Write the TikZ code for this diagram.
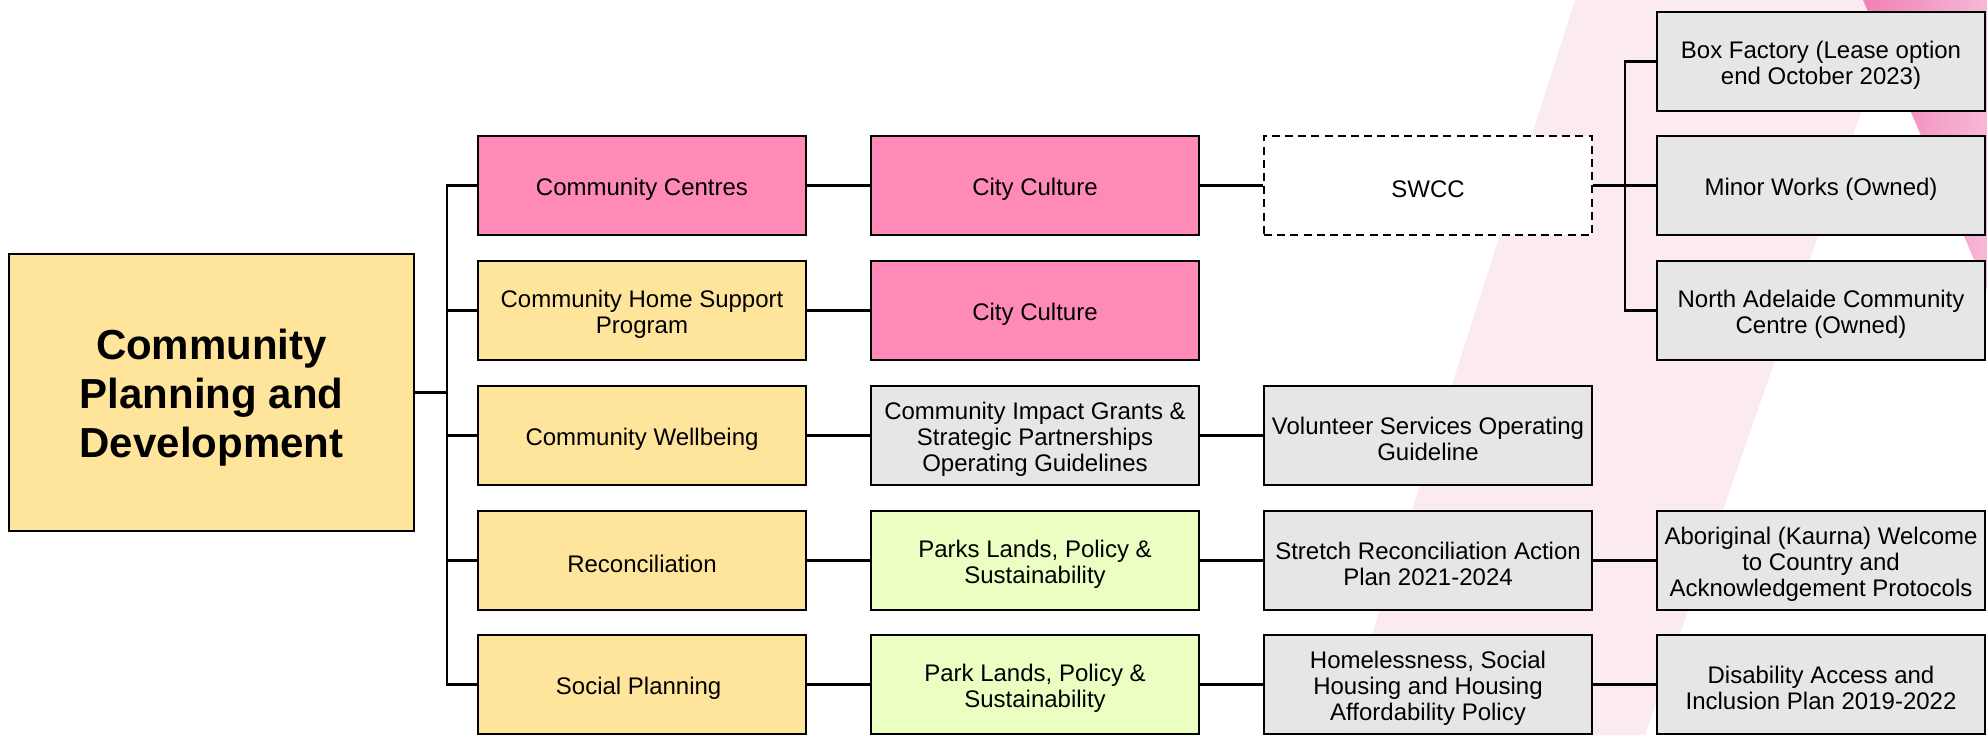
\documentclass[tikz,border=0pt]{standalone}
\usepackage{fontspec}
\setmainfont{Liberation Sans}
\usetikzlibrary{positioning,calc}
\definecolor{ccpink}{RGB}{255,138,184}
\definecolor{ccyellow}{RGB}{255,229,156}
\definecolor{ccgrey}{RGB}{230,230,230}
\definecolor{ccgreen}{RGB}{235,255,194}
\definecolor{bandpink}{RGB}{252,234,243}
\definecolor{stripepink}{RGB}{240,128,181}
\definecolor{stripelight}{RGB}{247,184,214}
% strut on the first text line, to sit the text a bit lower
\newcommand{\boxstrut}{\rule{0pt}{12.4pt}}

\tikzset{
    unitbox/.style={rectangle, draw, line width=1.4pt, minimum width=164pt, minimum height=49.5pt,
        inner sep=2pt, align=center, font=\fontsize{12}{13}\selectfont},
    link/.style={line width=1.1pt}
}

\begin{document}
\begin{tikzpicture}[x=0.5pt,y=-0.5pt]
    \useasboundingbox (0,0) rectangle (1987,735);

    % Background stripes
    \fill[bandpink] (1575,0) -- (1900,0) -- (1645,735) -- (1340,735) -- cycle;
    \shade[left color=stripepink, right color=stripelight] (1863,0) -- (1987,0) -- (1987,290) -- cycle;

    % Root
    \node[unitbox, fill=ccyellow, minimum width=202.5pt, minimum height=138.5pt,
        font=\bfseries\fontsize{21}{24.5}\selectfont] (root) at (211.5,392.5) {\rule{0pt}{20pt}Community\\Planning and\\Development};
    \coordinate (bus) at (447,392.5);
    \draw[link] (root.east) -- (bus);

    % First level with bus links
    \foreach \i/\y/\col/\text in {
        1/185.5/ccpink/{Community Centres},
        2/310.5/ccyellow/{Community Home Support\\Program},
        3/435.5/ccyellow/{Community Wellbeing},
        4/560.5/ccyellow/{Reconciliation},
        5/684.5/ccyellow/{Social Planning}
    } {
        \node[unitbox, fill=\col] (lvl\i) at (642,\y) {\boxstrut\text};
    }
    \draw[link] (lvl1.west) -- (bus |- lvl1.west) -- (bus |- lvl5.west) -- (lvl5.west);
    \foreach \i in {2,3,4} {
        \draw[link] (bus |- lvl\i.west) -- (lvl\i.west);
    }

    % Second level
    \node[unitbox, fill=ccpink] (cul1) at (1035,185.5) {\boxstrut City Culture};
    \node[unitbox, fill=ccpink] (cul2) at (1035,310.5) {\boxstrut City Culture};
    \node[unitbox, fill=ccgrey] (grants) at (1035,435.5) {\boxstrut Community Impact Grants \&\\Strategic Partnerships\\Operating Guidelines};
    \node[unitbox, fill=ccgreen] (parks) at (1035,560.5) {\boxstrut Parks Lands, Policy \&\\Sustainability};
    \node[unitbox, fill=ccgreen] (parkl) at (1035,684.5) {\boxstrut Park Lands, Policy \&\\Sustainability};
    \foreach \a/\b in {lvl1/cul1, lvl2/cul2, lvl3/grants, lvl4/parks, lvl5/parkl} {
        \draw[link] (\a.east) -- (\b.west);
    }

    % Third level
    \node[unitbox, fill=white, dashed, dash pattern=on 4pt off 2.6pt] (swcc) at (1428,185.5) {\boxstrut SWCC};
    \node[unitbox, fill=ccgrey] (vol) at (1428,435.5) {\boxstrut Volunteer Services Operating\\Guideline};
    \node[unitbox, fill=ccgrey] (recon) at (1428,560.5) {\boxstrut Stretch Reconciliation Action\\Plan 2021-2024};
    \node[unitbox, fill=ccgrey] (homeless) at (1428,684.5) {\boxstrut Homelessness, Social\\Housing and Housing\\Affordability Policy};
    \foreach \a/\b in {cul1/swcc, grants/vol, parks/recon, parkl/homeless} {
        \draw[link] (\a.east) -- (\b.west);
    }

    % Fourth level
    \node[unitbox, fill=ccgrey] (factory) at (1821,61.5) {\boxstrut Box Factory (Lease option\\end October 2023)};
    \node[unitbox, fill=ccgrey] (minor) at (1821,185.5) {\boxstrut Minor Works (Owned)};
    \node[unitbox, fill=ccgrey] (north) at (1821,310.5) {\boxstrut North Adelaide Community\\Centre (Owned)};
    \node[unitbox, fill=ccgrey] (welcome) at (1821,560.5) {\boxstrut Aboriginal (Kaurna) Welcome\\to Country and\\Acknowledgement Protocols};
    \node[unitbox, fill=ccgrey] (access) at (1821,684.5) {\boxstrut Disability Access and\\Inclusion Plan 2019-2022};
    \coordinate (sbus) at (1625,185.5);
    \draw[link] (swcc.east) -- (minor.west);
    \draw[link] (factory.west) -- (sbus |- factory.west) -- (sbus |- north.west) -- (north.west);
    \draw[link] (recon.east) -- (welcome.west);
    \draw[link] (homeless.east) -- (access.west);
\end{tikzpicture}
\end{document}
